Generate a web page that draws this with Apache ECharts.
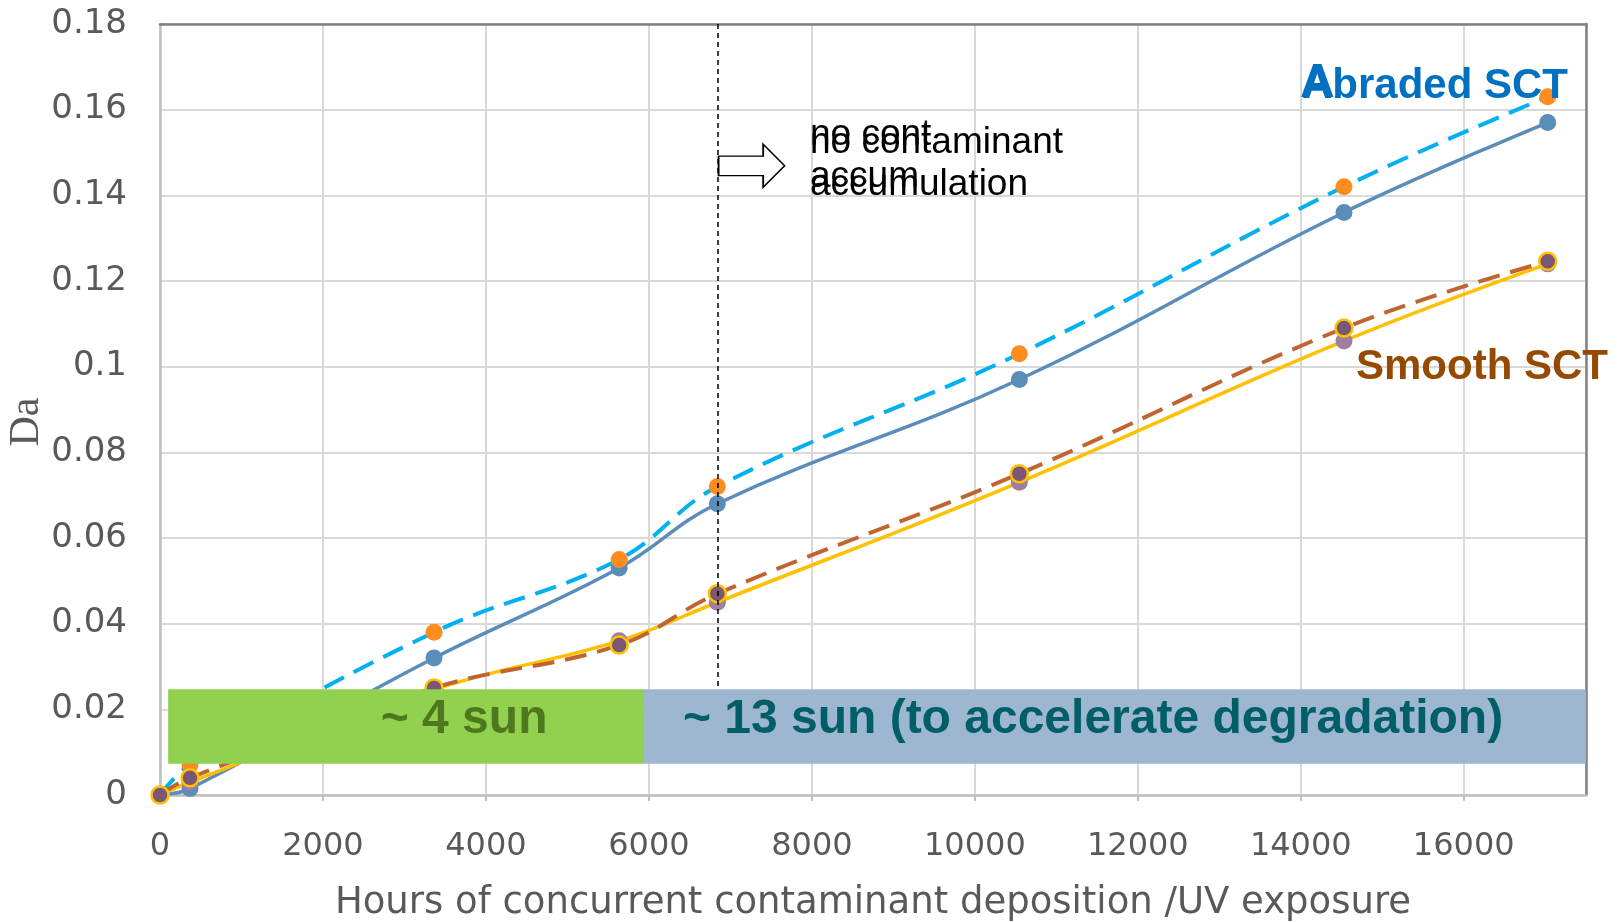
<!DOCTYPE html>
<html>
<head>
<meta charset="utf-8">
<script src="https://cdn.jsdelivr.net/npm/echarts@6.0.0/dist/echarts.min.js"></script>
<style>
  html, body { margin: 0; padding: 0; background: #fff; }
  #chart { width: 1623px; height: 922px; }
</style>
</head>
<body>
<div id="chart"></div>
<script>
// hours of exposure (x) for every measurement
const hours = [0, 368, 3363, 5635, 6840, 10546, 14530, 17030]
// Abraded SCT – two samples
const abradedDashed = [0, 0.007, 0.038, 0.055, 0.072, 0.103, 0.142, 0.163]
const abradedSolid = [0, 0.0015, 0.032, 0.053, 0.068, 0.097, 0.136, 0.157]
// Smooth SCT – two samples
const smoothDashed = [0, 0.004, 0.025, 0.035, 0.047, 0.075, 0.109, 0.1246]
const smoothSolid = [0, 0.003, 0.0246, 0.036, 0.045, 0.073, 0.106, 0.124]
// x ticks every 2000, y ticks every 0.02
const xMax = 17500
const yMax = 0.18
// exposure phases (start, end hours) and band label
const phases = [
  { from: 100, to: 5940, text: '~ 4 sun' },
  { from: 5940, to: 17500, text: '~ 13 sun (to accelerate degradation)' }
]
const bandLow = 0.0073
const bandHigh = 0.0247
const switchHour = 6840

const pairs = (ys) => hours.map((h, i) => [h, ys[i]])

const chart = echarts.init(document.getElementById('chart'))

const axisFont = { fontFamily: 'DejaVu Sans', fontSize: 32, color: '#595959' }

const lineSeries = (name, ys, color, dashed, marker, border) => ({
  name,
  type: 'line',
  data: pairs(ys),
  smooth: 0.4,
  symbol: 'circle',
  symbolSize: 17,
  lineStyle: { color, width: dashed ? 4 : 3.5, type: dashed ? [22, 11] : 'solid' },
  itemStyle: { color: marker, borderColor: border || marker, borderWidth: border ? 2.5 : 0 },
  animation: false
})

const textFont = '37px "Liberation Sans"'

chart.setOption({
  backgroundColor: '#fff',
  grid: { left: 160, right: 37, top: 24, bottom: 127, outerBoundsMode: 'none' },
  xAxis: [
    {
      type: 'value',
      min: 0,
      max: xMax,
      interval: 2000,
      name: 'Hours of concurrent contaminant deposition /UV exposure',
      nameLocation: 'middle',
      nameGap: 90,
      nameTextStyle: { fontFamily: 'DejaVu Sans', fontSize: 37, color: '#595959' },
      axisLine: { onZero: false, lineStyle: { color: '#BFBFBF', width: 2.5 } },
      axisTick: { show: true, length: 6, lineStyle: { color: '#BFBFBF', width: 2 } },
      axisLabel: Object.assign({ margin: 36, showMaxLabel: false, formatter: (v) => String(v) }, axisFont),
      splitLine: { show: true, lineStyle: { color: '#D9D9D9', width: 2 } }
    },
    {
      // top border of the plot area
      type: 'value',
      min: 0,
      max: xMax,
      position: 'top',
      axisLine: { show: true, onZero: false, lineStyle: { color: '#808080', width: 2.5 } },
      axisTick: { show: false },
      axisLabel: { show: false },
      splitLine: { show: false }
    }
  ],
  yAxis: [
    {
      type: 'value',
      min: 0,
      max: yMax,
      interval: 0.02,
      axisLine: { show: true, onZero: false, lineStyle: { color: '#BFBFBF', width: 2.5 } },
      axisTick: { show: false },
      axisLabel: Object.assign({ margin: 33 }, axisFont, { fontSize: 34 }),
      splitLine: { show: true, lineStyle: { color: '#D9D9D9', width: 2 } }
    },
    {
      // right border of the plot area
      type: 'value',
      min: 0,
      max: yMax,
      position: 'right',
      axisLine: { show: true, onZero: false, lineStyle: { color: '#808080', width: 2.5 } },
      axisTick: { show: false },
      axisLabel: { show: false },
      splitLine: { show: false }
    }
  ],
  series: [
    lineSeries('Abraded 2', abradedSolid, '#5B8DBB', false, '#5B8DBB'),
    lineSeries('Abraded 1', abradedDashed, '#00B0F0', true, '#FF8C1F'),
    lineSeries('Smooth 2', smoothSolid, '#FFC000', false, '#A07E9E'),
    lineSeries('Smooth 1', smoothDashed, '#C0652F', true, '#7A5873', '#FFC000'),
    {
      // annotations: phase bands, switch line, arrow
      name: 'notes',
      type: 'line',
      data: [],
      z: 10,
      markLine: {
        silent: true,
        symbol: 'none',
        z: 6,
        lineStyle: { color: '#000', type: [5, 4], width: 1.5 },
        label: { show: false },
        data: [[{ coord: [switchHour, yMax] }, { coord: [switchHour, bandHigh] }]]
      },
      markArea: {
        silent: true,
        z: 10,
        data: phases.map((p, i) => [
          {
            xAxis: p.from,
            yAxis: bandLow,
            itemStyle: { color: i === 0 ? '#92D050' : '#9EB7D1', opacity: 1 },
            label: {
              show: true,
              position: 'inside',
              offset: i === 0 ? [58, -7] : [-22, -7],
              color: i === 0 ? '#4E781E' : '#005E68',
              fontFamily: 'Liberation Sans',
              fontWeight: 'bold',
              fontSize: 48,
              formatter: p.text
            }
          },
          { xAxis: p.to, yAxis: bandHigh }
        ])
      },
      markPoint: {
        silent: true,
        z: 10,
        symbol: 'path://M0,35 L125,35 L125,0 L185,64 L125,128 L125,93 L0,93 Z',
        symbolSize: [66, 43],
        symbolKeepAspect: false,
        itemStyle: { color: '#fff', borderColor: '#000', borderWidth: 1.5 },
        label: { show: false },
        data: [{ coord: [7260, 0.1469] }]
      }
    }
  ],
  graphic: [
    { type: 'text', z: 100, left: 810, top: 116, style: { text: 'no cont', font: textFont, fill: '#000' } },
    { type: 'text', z: 100, left: 810, top: 124, style: { text: 'no contaminant', font: textFont, fill: '#000' } },
    { type: 'text', z: 100, left: 810, top: 158, style: { text: 'accum', font: textFont, fill: '#000' } },
    { type: 'text', z: 100, left: 810, top: 166, style: { text: 'accumulation', font: textFont, fill: '#000' } },
    { type: 'text', z: 100, left: 1302, top: 65, style: { text: 'Abraded SCT', font: 'bold 42px "Liberation Sans"', fill: '#0070C0' } },
    { type: 'text', z: 100, left: 1300, top: 60, style: { text: 'A', font: 'bold 48px "Liberation Sans"', fill: '#0070C0' } },
    { type: 'text', z: 100, left: 1356, top: 346, style: { text: 'Smooth SCT', font: 'bold 42px "Liberation Sans"', fill: '#944A00' } },
    {
      type: 'text', z: 100, x: 27, y: 422, rotation: Math.PI / 2,
      style: { text: 'Da', font: '42px "Liberation Serif"', fill: '#595959', align: 'center', verticalAlign: 'middle' }
    }
  ]
})
</script>
</body>
</html>
